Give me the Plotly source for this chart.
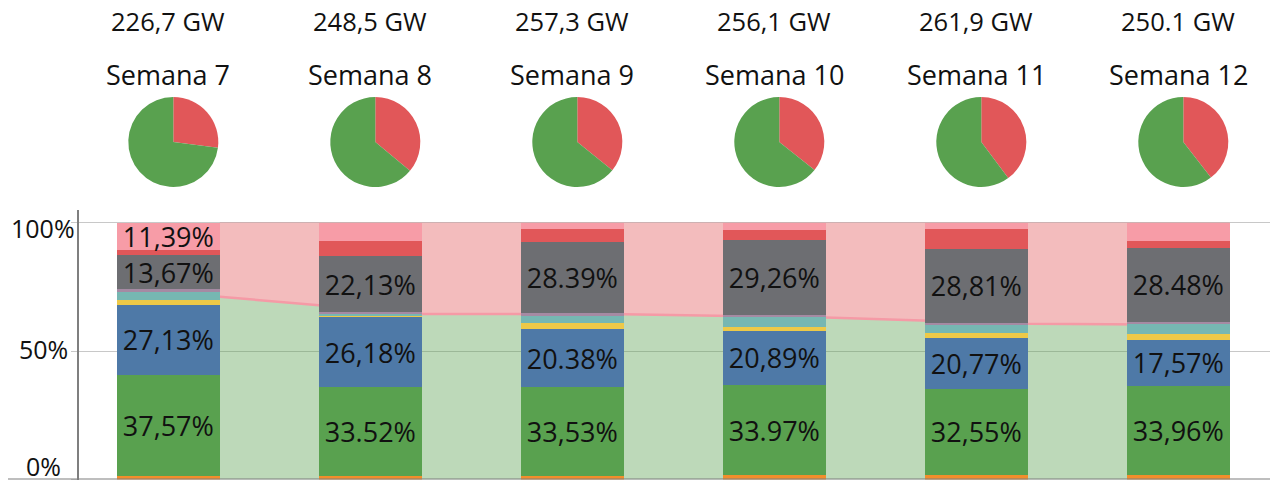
import plotly.graph_objects as go

W, H = 1278, 483
OFF = 8  # page body margin offset (screen px -> figure px)
FONT = "Open Sans"

# ---------------- data ----------------
weeks = ["Semana 7", "Semana 8", "Semana 9", "Semana 10", "Semana 11", "Semana 12"]
totals = ["226,7 GW", "248,5 GW", "257,3 GW", "256,1 GW", "261,9 GW", "250.1 GW"]

# stacked shares (%), bottom to top
orange = [1.4, 1.4, 1.4, 1.75, 1.75, 1.75]
green = [39.3, 34.4, 34.4, 35.0, 33.5, 34.7]
blue = [27.2, 27.5, 22.8, 21.1, 19.7, 17.8]
yellow = [1.9, 0.5, 2.2, 1.6, 1.9, 2.3]
teal = [3.5, 0.6, 2.8, 3.7, 3.2, 3.9]
purple = [0.7, 0.6, 1.0, 0.9, 0.9, 0.8]
gray = [13.3, 21.9, 27.9, 29.2, 28.9, 28.9]
red = [1.9, 5.8, 4.9, 3.9, 7.8, 2.6]
pink = [10.8, 7.3, 2.6, 2.85, 2.35, 7.25]

green_lbl = ["37,57%", "33.52%", "33,53%", "33.97%", "32,55%", "33,96%"]
blue_lbl = ["27,13%", "26,18%", "20.38%", "20,89%", "20,77%", "17,57%"]
gray_lbl = ["13,67%", "22,13%", "28.39%", "29,26%", "28,81%", "28.48%"]
pink_lbl = ["11,39%", "", "", "", "", ""]

# renewable share shown by the background area (%)
renewable_share = [71.1, 64.4, 64.3, 63.0, 60.6, 60.1]

# pies: non-renewable vs renewable (%)
pie_non_renewable = [27.0, 36.0, 35.8, 35.7, 39.8, 39.5]
pie_renewable = [73.0, 64.0, 64.2, 64.3, 60.2, 60.5]

y_tick_text = ["100%", "50%", "0%"]

# ---------------- geometry / style (screen pixels) ----------------
def sx(px):
    return (px - OFF) / W

def sy(py):
    return 1 - (py - OFF) / H

BAR_W = 0.51
X_LEFT_PX = 79
X_RIGHT_PX = W + OFF
X0_CENTER_PX = 168.3
STEP_PX = 202.0
r0 = (X_LEFT_PX - X0_CENTER_PX) / STEP_PX
r1 = r0 + (X_RIGHT_PX - X_LEFT_PX) / STEP_PX
Y0_PX, Y100_PX, YTOP_PX = 479.5, 222.5, 210
ymax = 100 * (Y0_PX - YTOP_PX) / (Y0_PX - Y100_PX)
ydom = [sy(Y0_PX), sy(YTOP_PX)]

idx = list(range(len(weeks)))

def px_of(xv):
    return X_LEFT_PX + (xv - r0) / (r1 - r0) * (X_RIGHT_PX - X_LEFT_PX)

fig = go.Figure()

# background area (renewable vs non-renewable)
area_x = [i + BAR_W / 2 for i in idx]
fig.add_trace(go.Scatter(
    x=area_x, y=renewable_share, mode="lines", fill="tozeroy",
    fillcolor="rgba(89,161,79,0.40)", line=dict(color="#f59aa6", width=2.5),
    hoverinfo="skip", xaxis="x", yaxis="y"))
fig.add_trace(go.Scatter(
    x=area_x, y=[100] * len(idx), mode="lines", fill="tonexty",
    fillcolor="rgba(225,87,89,0.40)", line=dict(width=0),
    hoverinfo="skip", xaxis="x", yaxis="y"))

series = [
    (orange, "#F28E2B", None),
    (green, "#59A14F", green_lbl),
    (blue, "#4E79A7", blue_lbl),
    (yellow, "#EDC948", None),
    (teal, "#76B7B2", None),
    (purple, "#A58AA3", None),
    (gray, "#6D6E72", gray_lbl),
    (red, "#E15759", None),
    (pink, "#F79CA7", pink_lbl),
]
for vals, col, lbl in series:
    fig.add_trace(go.Bar(
        x=idx, y=vals, width=BAR_W, marker=dict(color=col, line=dict(width=0)),
        text=lbl if lbl else None,
        textposition="inside" if lbl else "none",
        insidetextanchor="middle", constraintext="none", textangle=0,
        textfont=dict(family=FONT, size=27, color="#111111"),
        hoverinfo="skip", xaxis="x2", yaxis="y2"))

# pies
PIE_R = 45
PIE_CY = 142
for i in idx:
    cx = px_of(i) + 5
    fig.add_trace(go.Pie(
        values=[pie_non_renewable[i], pie_renewable[i]],
        marker=dict(colors=["#E15759", "#59A14F"], line=dict(width=0)),
        sort=False, direction="clockwise", rotation=0, textinfo="none",
        hoverinfo="skip", showlegend=False,
        domain=dict(x=[sx(cx - PIE_R), sx(cx + PIE_R)],
                    y=[sy(PIE_CY + PIE_R), sy(PIE_CY - PIE_R)])))

annotations = []
for i in idx:
    annotations.append(dict(x=i, xref="x", y=sy(21), yref="paper",
                            text=totals[i], showarrow=False, xanchor="center",
                            yanchor="middle", font=dict(family=FONT, size=25.5, color="#111111")))
    annotations.append(dict(x=i, xref="x", y=sy(75), yref="paper",
                            text=weeks[i], showarrow=False, xanchor="center",
                            yanchor="middle", font=dict(family=FONT, size=27, color="#111111")))
for t, ypx in zip(y_tick_text, [227.7, 348.7, 466]):
    annotations.append(dict(x=sx(43), xref="paper", y=sy(ypx), yref="paper",
                            text=t, showarrow=False, xanchor="center", yanchor="middle",
                            font=dict(family=FONT, size=25, color="#111111")))

fig.update_layout(
    width=W, height=H, margin=dict(l=0, r=0, t=0, b=0),
    paper_bgcolor="white", plot_bgcolor="white",
    barmode="stack", showlegend=False,
    xaxis=dict(domain=[sx(X_LEFT_PX), 1], range=[r0, r1], showgrid=False,
               zeroline=False, showline=False, showticklabels=False, ticks=""),
    yaxis=dict(domain=ydom, range=[0, ymax], tickvals=[0, 50, 100],
               showgrid=True, gridcolor="#c8c8c8", gridwidth=1,
               showticklabels=False, ticks="outside", ticklen=6, tickcolor="#c8c8c8",
               showline=True, linecolor="#7f7f7f", linewidth=1.5, zeroline=False),
    xaxis2=dict(overlaying="x", range=[r0, r1], visible=False),
    yaxis2=dict(overlaying="y", range=[0, ymax], visible=False),
    annotations=annotations,
    shapes=[dict(type="line", xref="paper", yref="y", x0=sx(8), x1=1, y0=0, y1=0,
                 line=dict(color="#7f7f7f", width=2))],
)

fig.write_html("out.html")
